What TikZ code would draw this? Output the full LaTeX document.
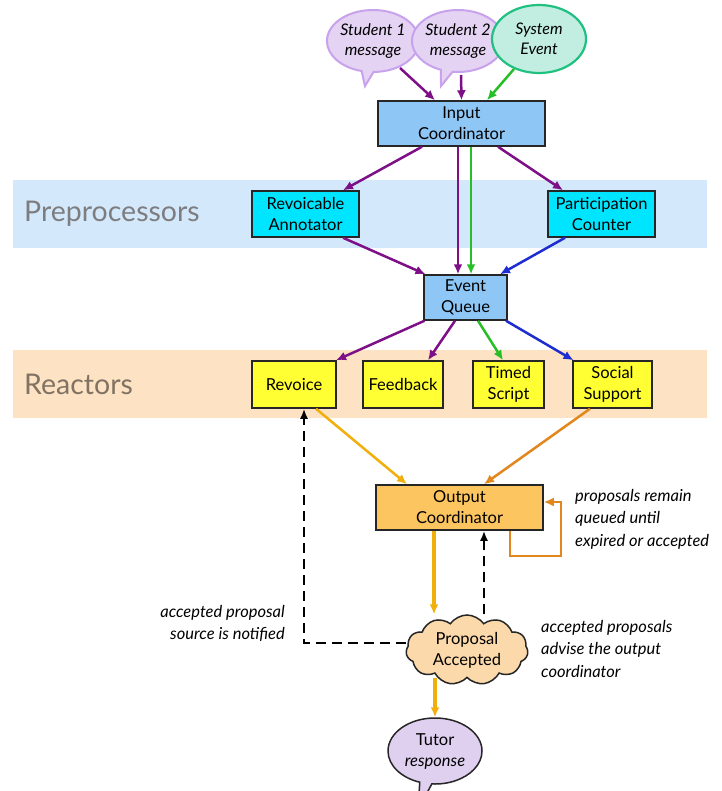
\documentclass[tikz,border=0pt]{standalone}
\usepackage{fontspec}
\setmainfont{Lato}
\usetikzlibrary{arrows.meta,shapes.symbols,shapes.callouts,shapes.geometric,calc}
\definecolor{cpurple}{RGB}{125,15,135}
\definecolor{cgreen}{RGB}{40,190,40}
\definecolor{cblue}{RGB}{30,45,210}
\definecolor{cgold}{RGB}{240,175,10}
\definecolor{corange}{RGB}{225,135,30}
\definecolor{cinput}{RGB}{142,198,246}
\definecolor{ccyan}{RGB}{0,229,255}
\definecolor{cyellow}{RGB}{255,255,51}
\definecolor{coutput}{RGB}{253,197,95}
\definecolor{cbandblue}{RGB}{212,232,251}
\definecolor{cbandpeach}{RGB}{253,227,195}
\definecolor{ccloud}{RGB}{252,217,170}
\definecolor{cstud}{RGB}{228,211,242}
\definecolor{cstudline}{RGB}{200,162,236}
\definecolor{csys}{RGB}{194,238,226}
\definecolor{csysline}{RGB}{32,192,128}
\definecolor{ctutor}{RGB}{224,208,240}
\definecolor{cgraytext}{RGB}{125,125,128}
\definecolor{cbrowntext}{RGB}{128,115,100}
\begin{document}
\begin{tikzpicture}[x=1pt,y=-1pt,
  every node/.style={font=\fontsize{16.5}{21}\selectfont, align=center, inner sep=0pt},
  boxs/.style={draw=black!85, line width=1.5pt, rectangle},
  arr/.style={line width=2.5pt, -{Latex[length=10pt,width=9pt]}},
  pa/.style={arr, draw=cpurple},
  ga/.style={arr, draw=cgreen},
  ba/.style={arr, draw=cblue},
  goa/.style={arr, draw=cgold},
  ora/.style={arr, draw=corange},
  dsh/.style={line width=2pt, dash pattern=on 10pt off 6pt, -{Latex[length=10pt,width=8pt]}},
  note/.style={font=\itshape\fontsize{16.5}{22.5}\selectfont},
  bandlabel/.style={font=\fontsize{28.5}{30}\selectfont, anchor=west}
]
\clip (0,0) rectangle (721,791);
\fill[white] (0,0) rectangle (721,791);
% bands
\fill[cbandblue] (13,180) rectangle (707,248);
\fill[cbandpeach] (13,350) rectangle (707,418);
\node[bandlabel, text=cgraytext] (lpre) at (24,214) {Preprocessors};
\node[bandlabel, text=cbrowntext] (lrea) at (24,384) {Reactors};

% source callouts
\node[ellipse callout, draw=cstudline, fill=cstud, line width=2pt,
      minimum width=90, minimum height=62, callout absolute pointer={(365,86)},
      font=\itshape\fontsize{16}{20}\selectfont] (s1) at (373,41) {Student 1\\message};
\node[ellipse callout, draw=cstudline, fill=cstud, line width=2pt,
      minimum width=92, minimum height=62, callout absolute pointer={(441,86)},
      font=\itshape\fontsize{16}{20}\selectfont] (s2) at (458,41) {Student 2\\message};
\node[ellipse, draw=csysline, fill=csys, line width=2.2pt,
      minimum width=94, minimum height=68,
      font=\itshape\fontsize{16}{20}\selectfont] (se) at (539,39) {System\\Event};

% boxes
\node[boxs, fill=cinput, minimum width=167, minimum height=45] (ic) at (461.5,123.5) {Input\\Coordinator};
\node[boxs, fill=ccyan, minimum width=107, minimum height=46] (ra) at (305.5,214) {Revoicable\\Annotator};
\node[boxs, fill=ccyan, minimum width=107, minimum height=46] (pc) at (601.5,214) {Participation\\Counter};
\node[boxs, fill=cinput, minimum width=83, minimum height=45] (eq) at (465.5,297.5) {Event\\Queue};
\node[boxs, fill=cyellow, minimum width=84, minimum height=47] (rv) at (294,384.5) {Revoice};
\node[boxs, fill=cyellow, minimum width=80, minimum height=47] (fb) at (403,384.5) {Feedback};
\node[boxs, fill=cyellow, minimum width=71, minimum height=47] (ts) at (508.5,384.5) {Timed\\Script};
\node[boxs, fill=cyellow, minimum width=79, minimum height=47] (ss) at (612.5,384.5) {Social\\Support};
\node[boxs, fill=coutput, minimum width=167, minimum height=45] (oc) at (459.5,507.5) {Output\\Coordinator};

\node[cloud, cloud puffs=11, cloud puff arc=110, aspect=1.8, draw=black!85, line width=1.5pt, fill=ccloud,
      minimum width=122, minimum height=70] (pa) at (467,650) {Proposal\\Accepted};
\node[ellipse callout, draw=black!85, fill=ctutor, line width=1.5pt,
      minimum width=94, minimum height=66, callout absolute pointer={(418,810)}] (tr) at (435,751) {Tutor\\\textit{response}};

% notes
\node[note, anchor=north west, align=left] (n1) at (575,489) {proposals remain\\queued until\\expired or accepted};
\node[note, anchor=north east, align=right] (n2) at (285,605) {accepted proposal\\source is notified};
\node[note, anchor=north west, align=left] (n3) at (541,620) {accepted proposals\\advise the output\\coordinator};

% input arrows
\draw[pa] ([shift={(27,27)}]s1.center) -- ([xshift=-26.5]ic.north);
\draw[pa] ([shift={(3,34)}]s2.center) -- ([xshift=0]ic.north);
\draw[ga] ([shift={(-25,30)}]se.center) -- ([xshift=25.5]ic.north);

% input coordinator outputs
\draw[pa] ([xshift=-39.5]ic.south) -- ([xshift=37.5]ra.north);
\draw[pa] ([xshift=-3.5]ic.south) -- ([xshift=-7.5]eq.north);
\draw[ga] ([xshift=9.5]ic.south) -- ([xshift=5.5]eq.north);
\draw[pa] ([xshift=36.5]ic.south) -- ([xshift=-38.5]pc.north);

% preprocessors to queue
\draw[pa] ([xshift=37.5]ra.south) -- ([xshift=-40]eq.north);
\draw[ba] ([xshift=-36.5]pc.south) -- ([xshift=34.5]eq.north);

% queue to reactors
\draw[pa] ([xshift=-41]eq.south) -- ([xshift=42]rv.north);
\draw[pa] ([xshift=-10.5]eq.south) -- ([xshift=25]fb.north);
\draw[ga] ([xshift=12.5]eq.south) -- ([xshift=-5.5]ts.north);
\draw[ba] ([xshift=40.5]eq.south) -- ([xshift=-39]ss.north);

% reactors to output
\draw[goa] ([xshift=22]rv.south) -- ([xshift=-52.5]oc.north);
\draw[ora] ([xshift=-22.5]ss.south) -- ([xshift=24.5]oc.north);

% self loop
\draw[arr, draw=corange, line width=2.3pt] ([xshift=50.5]oc.south) -- ++(0,25) -- ++(51,0) |- ([yshift=5.5pt]oc.east);

% output to proposal, proposal to tutor
\coordinate (ocL) at ([xshift=-25.5]oc.south);
\coordinate (ocR) at ([xshift=24.5]oc.south);
\coordinate (rvR) at ([xshift=10]rv.south);
\draw[goa, line width=3.4pt] (ocL) -- (ocL |- pa.north);
\draw[dsh] (ocR |- pa.north) -- (ocR);
\draw[dsh] ([yshift=7pt]pa.west) -| (rvR);
\draw[goa, line width=3.4pt] (tr.north |- pa.south) -- (tr.north);
\end{tikzpicture}
\end{document}
